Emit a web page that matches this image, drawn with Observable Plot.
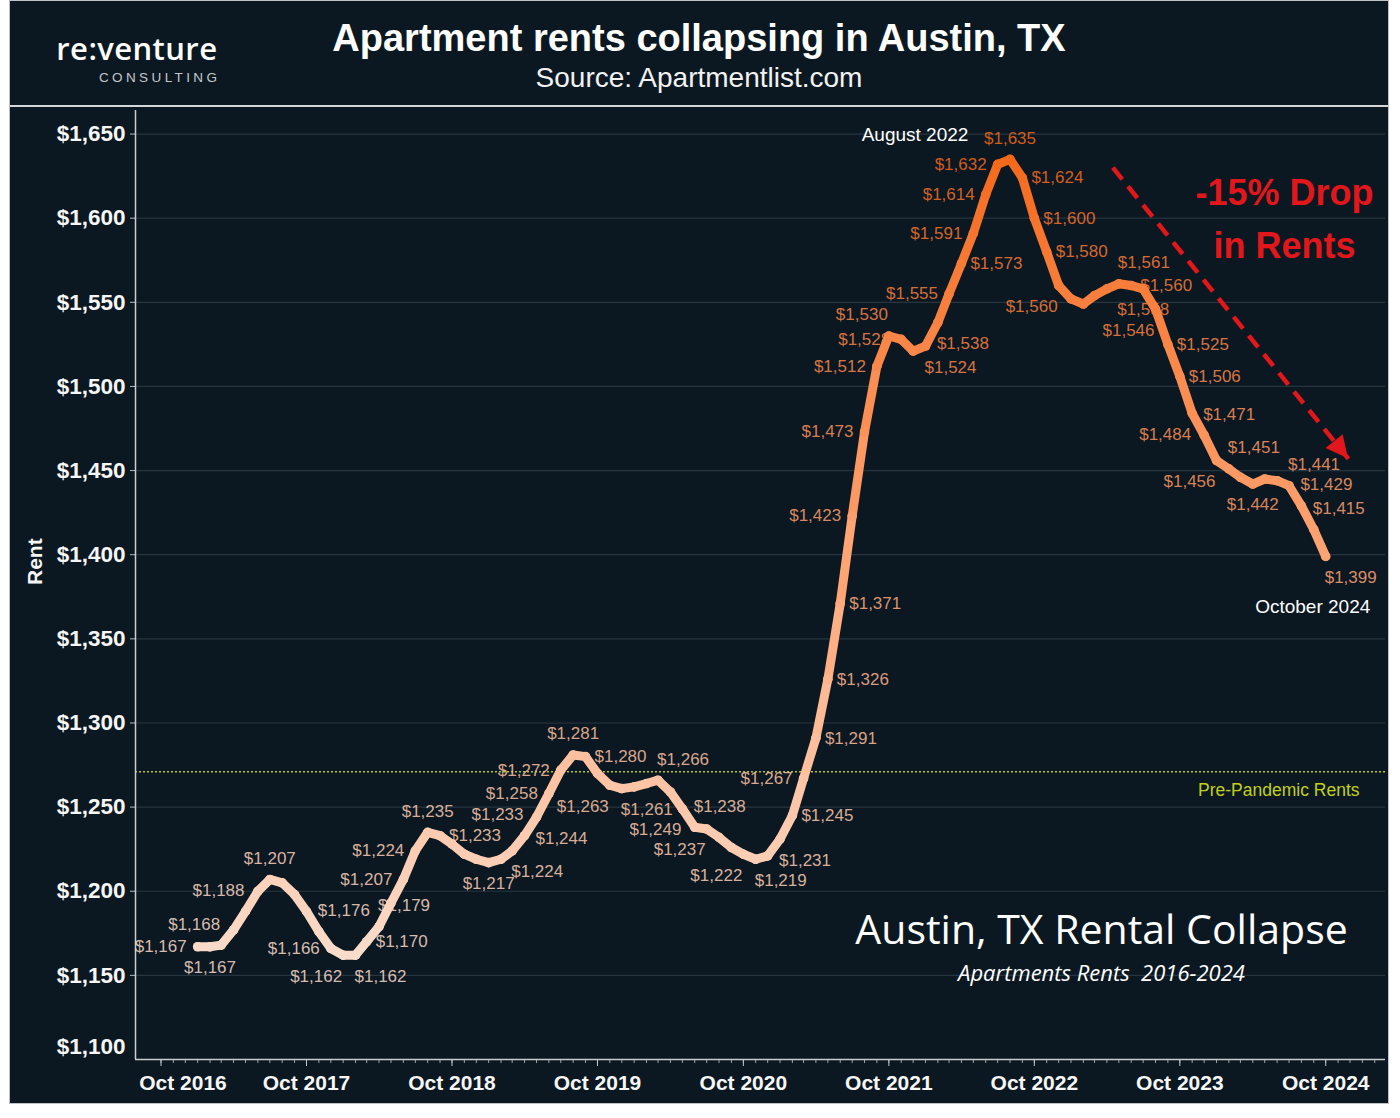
<!DOCTYPE html>
<html>
<head>
<meta charset="utf-8">
<script src="https://cdn.jsdelivr.net/npm/d3@7"></script>
<script src="https://cdn.jsdelivr.net/npm/@observablehq/plot@0.6"></script>
<style>
  html, body { margin: 0; background: #ffffff; }
  #panel {
    position: absolute; left: 10px; top: 1px; width: 1378px; height: 1102px;
    background: #0b1822; outline: 1.5px solid #bfc3c6; overflow: hidden;
    font-family: "Liberation Sans", Arial, sans-serif; color: #f4f4f4;
  }
  #header { position: relative; height: 104px; border-bottom: 2px solid #d4d6d8; }
  .logo { position: absolute; left: 0; width: 207px; text-align: right; }
  .logo .word { font-family: "Open Sans", sans-serif; font-weight: 600; font-size: 31px; line-height: 31px; margin-top: 32px; color: #ffffff; letter-spacing: 0.4px; margin-right: -0.4px; }
  .logo .sub { font-family: "Liberation Sans", Arial, sans-serif; font-size: 13.5px; line-height: 14px; letter-spacing: 3.4px; margin-right: -3.4px; color: #c4c7ca; margin-top: 7px; }
  .title { position: absolute; left: 0; right: 0; top: 17px; text-align: center; font-weight: bold; font-size: 38px; line-height: 40px; color: #ffffff; }
  .subtitle { position: absolute; left: 0; right: 0; top: 62px; text-align: center; font-size: 28px; line-height: 30px; color: #f2f2f2; }
  #chart svg { display: block; }
</style>
</head>
<body>
<div id="panel">
  <div id="header">
    <div class="logo"><div class="word">re:venture</div><div class="sub">CONSULTING</div></div>
    <div class="title">Apartment rents collapsing in Austin, TX</div>
    <div class="subtitle">Source: Apartmentlist.com</div>
  </div>
  <div id="chart"></div>
</div>
<script>
// Monthly average apartment rent in Austin, TX, January 2017 through October 2024
const firstMonth = "2017-01";
const rents = [
  1167, 1167, 1168, 1177, 1188, 1200, 1207, 1205, 1198, 1188, 1176, 1166, // 2017
  1162, 1162, 1170, 1179, 1193, 1207, 1224, 1235, 1233, 1228, 1222, 1219, // 2018
  1217, 1219, 1224, 1233, 1244, 1258, 1272, 1281, 1280, 1270, 1263, 1261, // 2019
  1262, 1264, 1266, 1259, 1249, 1238, 1237, 1232, 1226, 1222, 1219, 1221, // 2020
  1231, 1245, 1267, 1291, 1326, 1371, 1423, 1473, 1512, 1530, 1528, 1521, // 2021
  1524, 1538, 1555, 1573, 1591, 1614, 1632, 1635, 1624, 1600, 1580, 1560, // 2022
  1552, 1549, 1554, 1558, 1561, 1560, 1558, 1546, 1525, 1506, 1484, 1471, // 2023
  1456, 1451, 1446, 1442, 1445, 1444, 1441, 1429, 1415, 1399              // 2024
];
// Which side of its point each value label sits on ("" = no label)
const labelSide = [
  "L", "B", "AL", "", "AL", "", "A", "", "", "", "AR", "L",
  "BL", "BR", "R", "AR", "", "L", "L", "A", "R", "", "", "",
  "B", "", "BR", "AL", "BR", "L", "L", "A", "R", "", "BL", "BR",
  "", "", "AR", "", "BL", "AR", "BL", "", "", "BL", "BR", "",
  "BR", "R", "L", "R", "R", "R", "L", "L", "L", "AL", "L", "",
  "BR", "BR", "L", "R", "L", "L", "L", "A", "R", "R", "R", "BL",
  "", "", "", "", "AR", "R", "B", "BL", "R", "R", "BL", "AR",
  "BL", "AR", "", "B", "", "", "AR", "AR", "AR", "BR"
];
const yTicks = [1100, 1150, 1200, 1250, 1300, 1350, 1400, 1450, 1500, 1550, 1600, 1650];
const xTickLabels = ["Oct 2016", "Oct 2017", "Oct 2018", "Oct 2019", "Oct 2020", "Oct 2021", "Oct 2022", "Oct 2023", "Oct 2024"];
const prePandemicRent = 1271;
// Trend arrow drawn over the 2023-2024 decline
const trendArrow = { from: ["2023-04-16", 1630], to: ["2024-11-27", 1457] };

const parseMonth = d3.utcParse("%Y-%m");
const parseDay = d3.utcParse("%Y-%m-%d");
const start = parseMonth(firstMonth);
const rows = rents.map((rent, i) => ({ date: d3.utcMonth.offset(start, i), rent, side: labelSide[i] }));
const segments = rows.slice(1).map((d, i) => ({
  x1: rows[i].date, y1: rows[i].rent, x2: d.date, y2: d.rent, v: (rows[i].rent + d.rent) / 2
}));
const xTicks = xTickLabels.map(d3.utcParse("%b %Y"));
const monthTicks = d3.utcMonth.range(xTicks[0], d3.utcMonth.offset(xTicks[xTicks.length - 1], 5));
const fmt = d3.format("$,");
const peak = d3.greatest(rows, d => d.rent);
const last = rows[rows.length - 1];
const arrow = {
  x1: parseDay(trendArrow.from[0]), y1: trendArrow.from[1],
  x2: parseDay(trendArrow.to[0]), y2: trendArrow.to[1]
};
const red = "#e2171b";

const sides = {
  L:  { textAnchor: "end",    dx: -11, dy: 0 },
  R:  { textAnchor: "start",  dx: 9,   dy: 0 },
  A:  { textAnchor: "middle", dx: 0,   dy: -21 },
  B:  { textAnchor: "middle", dx: 0,   dy: 21 },
  AL: { textAnchor: "end",    dx: -1,  dy: -21 },
  AR: { textAnchor: "start",  dx: -1,  dy: -21 },
  BL: { textAnchor: "end",    dx: -1,  dy: 21 },
  BR: { textAnchor: "start",  dx: -1,  dy: 21 }
};
const valueLabels = Object.entries(sides).map(([side, o]) =>
  Plot.text(rows.filter(d => d.side === side), {
    x: "date", y: "rent", text: d => fmt(d.rent), fill: "rent", fillOpacity: 0.86,
    fontSize: 17, ...o
  })
);

// filled arrowhead at the end of the dashed trend line
function arrowHead(index, scales) {
  const x1 = scales.x(arrow.x1), y1 = scales.y(arrow.y1);
  const x2 = scales.x(arrow.x2), y2 = scales.y(arrow.y2);
  const a = Math.atan2(y2 - y1, x2 - x1), L = 22, W = 11;
  const bx = x2 - L * Math.cos(a), by = y2 - L * Math.sin(a);
  const pts = [[x2, y2], [bx + W * Math.sin(a), by - W * Math.cos(a)], [bx - W * Math.sin(a), by + W * Math.cos(a)]];
  return d3.create("svg:path").attr("d", "M" + pts.join("L") + "Z").attr("fill", red).node();
}

const callout = { textAnchor: "middle", lineAnchor: "middle" };

const chart = Plot.plot({
  width: 1378,
  height: 996,
  marginLeft: 125,
  marginRight: 3,
  marginTop: 3,
  marginBottom: 44,
  style: { background: "transparent", color: "#f4f4f4", fontFamily: "Liberation Sans, Arial, sans-serif", overflow: "visible" },
  x: { type: "utc", domain: [parseDay("2016-07-29"), parseDay("2025-02-28")] },
  y: { domain: [1100, 1664] },
  color: { type: "linear", domain: [1160, 1640], range: ["#f9dccb", "#f36818"], interpolate: d3.interpolateLab },
  marks: [
    Plot.gridY(yTicks, { stroke: "#26353f", strokeOpacity: 1, strokeWidth: 1.2 }),
    Plot.ruleY([prePandemicRent], { stroke: "#b7c21c", strokeWidth: 1.3, strokeDasharray: "2,2" }),
    Plot.text([prePandemicRent], { y: d => d, frameAnchor: "right", textAnchor: "end", dx: -26, dy: 19, text: () => "Pre-Pandemic Rents", fill: "#c3cf1e", fontSize: 17.5 }),
    // axes
    Plot.axisY(yTicks.slice(1), { tickFormat: fmt, fontSize: 22.5, fontWeight: "bold", fill: "#f6f6f6", stroke: "#b5b9bc", tickSize: 5, tickPadding: 5, label: null }),
    Plot.text([yTicks[0]], { y: d => d, frameAnchor: "left", textAnchor: "end", dx: -10, dy: -13, text: fmt, fontSize: 22.5, fontWeight: "bold", fill: "#f6f6f6" }),
    Plot.axisX(monthTicks, { tickFormat: () => "", tickSize: 4, stroke: "#9fa5aa", label: null }),
    Plot.axisX(xTicks, { tickFormat: () => "", tickSize: 7, stroke: "#c5c9cc", label: null }),
    Plot.axisX(xTicks.slice(1), { tickFormat: d3.utcFormat("%b %Y"), tickSize: 0, tickPadding: 16, fontSize: 21, fontWeight: "bold", fill: "#f6f6f6", label: null }),
    Plot.axisX(xTicks.slice(0, 1), { tickFormat: d3.utcFormat("%b %Y"), tickSize: 0, tickPadding: 16, dx: 22, fontSize: 21, fontWeight: "bold", fill: "#f6f6f6", label: null }),
    Plot.ruleX([parseDay("2016-07-29")], { stroke: "#c9cdd0", strokeWidth: 1.5 }),
    Plot.ruleY([1100], { stroke: "#c9cdd0", strokeWidth: 1.5 }),
    Plot.text(["Rent"], { frameAnchor: "left", dx: -100, rotate: -90, fontSize: 21, fontWeight: "bold", fill: "#f6f6f6" }),
    // trend arrow
    Plot.link([arrow], { x1: "x1", y1: "y1", x2: "x2", y2: "y2", stroke: red, strokeWidth: 4.5, strokeDasharray: "15,9" }),
    arrowHead,
    Plot.text(["-15% Drop"], { frameAnchor: "top-right", dx: -101, dy: 83, fontSize: 36, fontWeight: "bold", fill: red, ...callout }),
    Plot.text(["in Rents"], { frameAnchor: "top-right", dx: -101, dy: 136, fontSize: 36, fontWeight: "bold", fill: red, ...callout }),
    // value labels sit beneath the line
    ...valueLabels,
    Plot.link(segments, { x1: "x1", y1: "y1", x2: "x2", y2: "y2", stroke: "v", strokeWidth: 9, strokeLinecap: "round" }),
    Plot.dot(rows, { x: "date", y: "rent", r: 4.8, fill: "rent" }),
    // callouts
    Plot.text([peak], { x: "date", y: "rent", text: () => "August 2022", dx: -95, dy: -24, fontSize: 19, fill: "#ffffff" }),
    Plot.text([last], { x: "date", y: "rent", text: () => "October 2024", dx: -13, dy: 51, fontSize: 19, fill: "#ffffff" }),
    Plot.text(["Austin, TX Rental Collapse"], { frameAnchor: "bottom-right", dx: -284, dy: -129, fontSize: 41, fontFamily: "Open Sans, sans-serif", fill: "#ffffff", ...callout }),
    Plot.text(["Apartments Rents  2016-2024"], { frameAnchor: "bottom-right", dx: -284, dy: -86, fontSize: 22, fontStyle: "italic", fontFamily: "Open Sans, sans-serif", fill: "#ffffff", ...callout })
  ]
});
document.getElementById("chart").append(chart);
</script>
</body>
</html>
